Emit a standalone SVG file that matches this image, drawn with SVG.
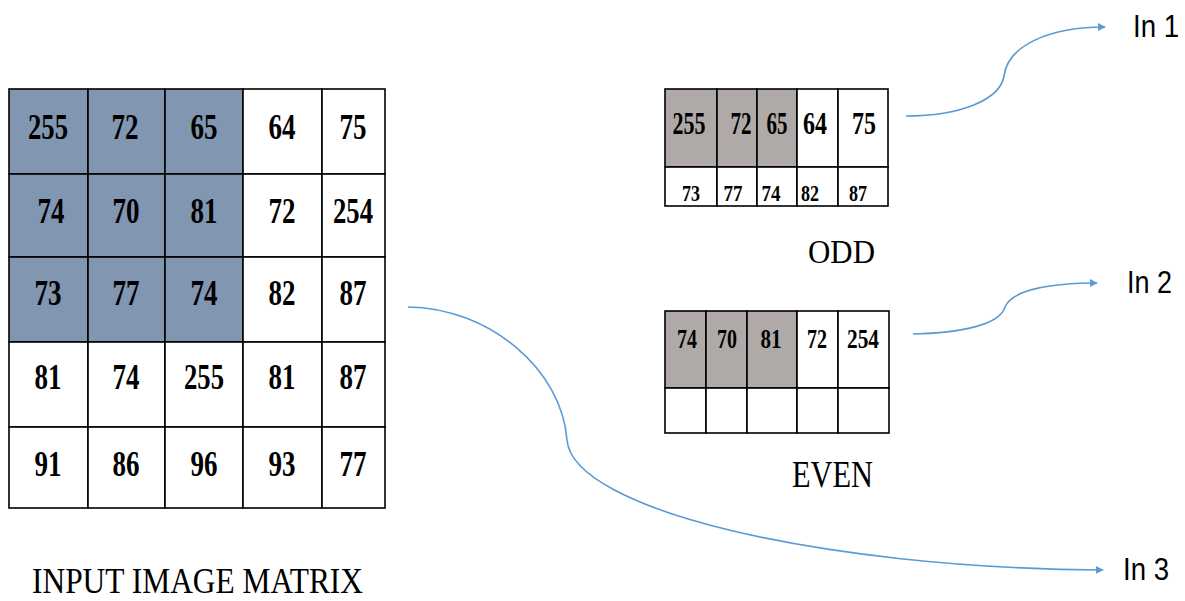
<svg xmlns="http://www.w3.org/2000/svg" width="1185" height="601" viewBox="0 0 1185 601">
<defs>
<style>
.cell{stroke:#000;stroke-width:1.6;fill:#fff}
.blue{fill:#8196b1}
.grey{fill:#afaaa8}
.n{font-family:"Liberation Serif",serif;font-weight:bold;text-anchor:middle;fill:#000}
.big{font-size:35px}
.m1{font-size:32px}
.m2{font-size:23px}
.m3{font-size:27px}
.lbl{font-family:"Liberation Serif",serif;fill:#000}
.in{font-family:"Liberation Sans",sans-serif;font-size:32px;fill:#000}
.conn{fill:none;stroke:#5b9bd5;stroke-width:1.6}
</style>
<marker id="ah" viewBox="0 0 10 10" refX="9" refY="5" markerWidth="8" markerHeight="8" markerUnits="userSpaceOnUse" orient="auto">
<path d="M0,0 L10,5 L0,10 z" fill="#5b9bd5"/>
</marker>
</defs>
<rect width="1185" height="601" fill="#fff"/>

<g id="input-matrix">
<rect class="cell blue" x="9" y="89" width="79" height="85"/>
<rect class="cell blue" x="88" y="89" width="77" height="85"/>
<rect class="cell blue" x="165" y="89" width="78" height="85"/>
<rect class="cell" x="243" y="89" width="79" height="85"/>
<rect class="cell" x="322" y="89" width="63" height="85"/>
<rect class="cell blue" x="9" y="174" width="79" height="83"/>
<rect class="cell blue" x="88" y="174" width="77" height="83"/>
<rect class="cell blue" x="165" y="174" width="78" height="83"/>
<rect class="cell" x="243" y="174" width="79" height="83"/>
<rect class="cell" x="322" y="174" width="63" height="83"/>
<rect class="cell blue" x="9" y="257" width="79" height="85"/>
<rect class="cell blue" x="88" y="257" width="77" height="85"/>
<rect class="cell blue" x="165" y="257" width="78" height="85"/>
<rect class="cell" x="243" y="257" width="79" height="85"/>
<rect class="cell" x="322" y="257" width="63" height="85"/>
<rect class="cell" x="9" y="342" width="79" height="85"/>
<rect class="cell" x="88" y="342" width="77" height="85"/>
<rect class="cell" x="165" y="342" width="78" height="85"/>
<rect class="cell" x="243" y="342" width="79" height="85"/>
<rect class="cell" x="322" y="342" width="63" height="85"/>
<rect class="cell" x="9" y="427" width="79" height="81"/>
<rect class="cell" x="88" y="427" width="77" height="81"/>
<rect class="cell" x="165" y="427" width="78" height="81"/>
<rect class="cell" x="243" y="427" width="79" height="81"/>
<rect class="cell" x="322" y="427" width="63" height="81"/>
<g class="n big">
<text x="48" y="139" textLength="40" lengthAdjust="spacingAndGlyphs">255</text>
<text x="125" y="139" textLength="27" lengthAdjust="spacingAndGlyphs">72</text>
<text x="204" y="139" textLength="27" lengthAdjust="spacingAndGlyphs">65</text>
<text x="282" y="139" textLength="27" lengthAdjust="spacingAndGlyphs">64</text>
<text x="353" y="139" textLength="27" lengthAdjust="spacingAndGlyphs">75</text>
<text x="51" y="223" textLength="27" lengthAdjust="spacingAndGlyphs">74</text>
<text x="126" y="223" textLength="27" lengthAdjust="spacingAndGlyphs">70</text>
<text x="204" y="223" textLength="27" lengthAdjust="spacingAndGlyphs">81</text>
<text x="282" y="223" textLength="27" lengthAdjust="spacingAndGlyphs">72</text>
<text x="353" y="223" textLength="40" lengthAdjust="spacingAndGlyphs">254</text>
<text x="48" y="305" textLength="27" lengthAdjust="spacingAndGlyphs">73</text>
<text x="126" y="305" textLength="27" lengthAdjust="spacingAndGlyphs">77</text>
<text x="204" y="305" textLength="27" lengthAdjust="spacingAndGlyphs">74</text>
<text x="282" y="305" textLength="27" lengthAdjust="spacingAndGlyphs">82</text>
<text x="353" y="305" textLength="27" lengthAdjust="spacingAndGlyphs">87</text>
<text x="48" y="389" textLength="27" lengthAdjust="spacingAndGlyphs">81</text>
<text x="126" y="389" textLength="27" lengthAdjust="spacingAndGlyphs">74</text>
<text x="204" y="389" textLength="40" lengthAdjust="spacingAndGlyphs">255</text>
<text x="282" y="389" textLength="27" lengthAdjust="spacingAndGlyphs">81</text>
<text x="353" y="389" textLength="27" lengthAdjust="spacingAndGlyphs">87</text>
<text x="48" y="476" textLength="27" lengthAdjust="spacingAndGlyphs">91</text>
<text x="126" y="476" textLength="27" lengthAdjust="spacingAndGlyphs">86</text>
<text x="204" y="476" textLength="27" lengthAdjust="spacingAndGlyphs">96</text>
<text x="282" y="476" textLength="27" lengthAdjust="spacingAndGlyphs">93</text>
<text x="353" y="476" textLength="27" lengthAdjust="spacingAndGlyphs">77</text>
</g>
<text class="lbl" x="32" y="593" font-size="35" textLength="331" lengthAdjust="spacingAndGlyphs">INPUT IMAGE MATRIX</text>
</g>

<g id="odd">
<rect class="cell grey" x="665" y="89" width="52" height="78"/>
<rect class="cell grey" x="717" y="89" width="40" height="78"/>
<rect class="cell grey" x="757" y="89" width="40" height="78"/>
<rect class="cell" x="797" y="89" width="41" height="78"/>
<rect class="cell" x="838" y="89" width="50" height="78"/>
<rect class="cell" x="665" y="167" width="52" height="39"/>
<rect class="cell" x="717" y="167" width="40" height="39"/>
<rect class="cell" x="757" y="167" width="40" height="39"/>
<rect class="cell" x="797" y="167" width="41" height="39"/>
<rect class="cell" x="838" y="167" width="50" height="39"/>
<g class="n m1">
<text x="689" y="134" textLength="33" lengthAdjust="spacingAndGlyphs">255</text>
<text x="741" y="134" textLength="21" lengthAdjust="spacingAndGlyphs">72</text>
<text x="777" y="134" textLength="21" lengthAdjust="spacingAndGlyphs">65</text>
<text x="815" y="134" textLength="24" lengthAdjust="spacingAndGlyphs">64</text>
<text x="864" y="134" textLength="24" lengthAdjust="spacingAndGlyphs">75</text>
</g>
<g class="n m2">
<text x="691" y="201" textLength="18" lengthAdjust="spacingAndGlyphs">73</text>
<text x="733" y="201" textLength="19" lengthAdjust="spacingAndGlyphs">77</text>
<text x="771" y="201" textLength="19" lengthAdjust="spacingAndGlyphs">74</text>
<text x="810" y="201" textLength="18" lengthAdjust="spacingAndGlyphs">82</text>
<text x="858" y="201" textLength="18" lengthAdjust="spacingAndGlyphs">87</text>
</g>
<text class="lbl" x="808" y="263" font-size="34" textLength="67" lengthAdjust="spacingAndGlyphs">ODD</text>
</g>

<g id="even">
<rect class="cell grey" x="665" y="311" width="41" height="77"/>
<rect class="cell grey" x="706" y="311" width="41" height="77"/>
<rect class="cell grey" x="747" y="311" width="50" height="77"/>
<rect class="cell" x="797" y="311" width="41" height="77"/>
<rect class="cell" x="838" y="311" width="51" height="77"/>
<rect class="cell" x="665" y="388" width="41" height="45"/>
<rect class="cell" x="706" y="388" width="41" height="45"/>
<rect class="cell" x="747" y="388" width="50" height="45"/>
<rect class="cell" x="797" y="388" width="41" height="45"/>
<rect class="cell" x="838" y="388" width="51" height="45"/>
<g class="n m3">
<text x="687" y="348" textLength="20" lengthAdjust="spacingAndGlyphs">74</text>
<text x="727" y="348" textLength="20" lengthAdjust="spacingAndGlyphs">70</text>
<text x="771" y="348" textLength="21" lengthAdjust="spacingAndGlyphs">81</text>
<text x="817" y="348" textLength="20" lengthAdjust="spacingAndGlyphs">72</text>
<text x="863" y="348" textLength="32" lengthAdjust="spacingAndGlyphs">254</text>
</g>
<text class="lbl" x="792" y="487" font-size="37" textLength="81" lengthAdjust="spacingAndGlyphs">EVEN</text>
</g>

<g id="outputs">
<text class="in" x="1133" y="37" textLength="46" lengthAdjust="spacingAndGlyphs">In 1</text>
<text class="in" x="1127" y="293" textLength="45" lengthAdjust="spacingAndGlyphs">In 2</text>
<text class="in" x="1123" y="580" textLength="46" lengthAdjust="spacingAndGlyphs">In 3</text>
</g>

<g id="connectors">
<path class="conn" marker-end="url(#ah)" d="M906,116 C960,116 1000,100 1004,76 C1008,45 1050,27 1105,27"/>
<path class="conn" marker-end="url(#ah)" d="M913,334 C960,333 1000,325 1005,307 C1012,290 1050,283 1097,283"/>
<path class="conn" marker-end="url(#ah)" d="M408,307 C490,308 562,370 567,440 C573,510 820,568 1103,570"/>
</g>
</svg>
